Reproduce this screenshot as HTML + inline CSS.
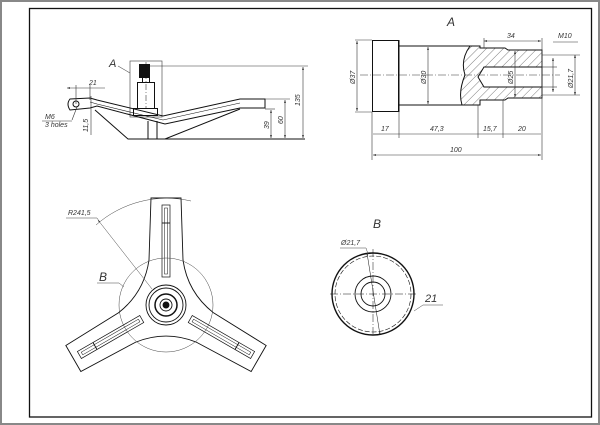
<!DOCTYPE html>
<html><head><meta charset="utf-8"><style>
html,body{margin:0;padding:0;background:#fff;}
svg{display:block;}
text{font-family:"Liberation Sans",sans-serif;font-style:italic;fill:#333;}
</style></head><body>
<svg width="600" height="425" viewBox="0 0 600 425" xmlns="http://www.w3.org/2000/svg">
<defs>
<pattern id="h" width="6" height="6" patternUnits="userSpaceOnUse" patternTransform="rotate(45)">
<line x1="0" y1="0" x2="0" y2="6" stroke="#444" stroke-width="0.7"/></pattern>
<marker id="a" markerWidth="6" markerHeight="6" refX="5" refY="3" orient="auto-start-reverse"><path d="M0,1.5L5,3L0,4.5z" fill="#222"/></marker>
</defs>
<rect x="1" y="1" width="598" height="423" fill="none" stroke="#888" stroke-width="2"/>
<rect x="29.5" y="8.5" width="562" height="408.5" fill="none" stroke="#111" stroke-width="1.3"/>

<!-- Side view -->
<g fill="none" stroke="#111" stroke-width="1">
<rect x="130" y="61" width="32" height="56" stroke="#555" stroke-width="0.7"/>
<line x1="118" y1="66" x2="130" y2="73" stroke="#555" stroke-width="0.6"/>
<rect x="139.5" y="64.5" width="10" height="13" fill="#111"/>
<rect x="142.5" y="77.5" width="7" height="5"/>
<rect x="137.5" y="82.5" width="17" height="26"/>
<rect x="133.5" y="108.5" width="24" height="7"/>
<line x1="146" y1="62" x2="146" y2="108" stroke-dasharray="6,2,1,2" stroke-width="0.5"/>
<path d="M70,99 L90,98 L97,100 L163,116 L240,99 L265,99 L265,108 L240,108 L165,124 L97,106 L90,108 L70,110 Q66,104 70,99z"/>
<path d="M90,102 L97,104 L163,120 L240,103" stroke-width="0.6"/>
<path d="M95,110 L128,139 L305,139 M148,121 L148,139 M157,121 L157,139 M165,139 L240,109"/>
<circle cx="76" cy="104" r="3"/>
</g>
<g stroke="#333" stroke-width="0.6" fill="none">
<line x1="150" y1="66" x2="308" y2="66"/>
<line x1="265" y1="99" x2="290" y2="99"/>
<line x1="265" y1="109" x2="275" y2="109"/>
<line x1="303" y1="67" x2="303" y2="138" marker-start="url(#a)" marker-end="url(#a)"/>
<line x1="285" y1="100" x2="285" y2="138" marker-start="url(#a)" marker-end="url(#a)"/>
<line x1="271" y1="110" x2="271" y2="138" marker-start="url(#a)" marker-end="url(#a)"/>
<line x1="67" y1="88" x2="105" y2="88" marker-start="url(#a)"/>
<line x1="76" y1="85" x2="76" y2="104"/><line x1="90" y1="85" x2="90" y2="100"/>
<line x1="91" y1="96" x2="91" y2="135"/>
<line x1="77" y1="107" x2="72" y2="120"/><line x1="42" y1="121" x2="72" y2="121"/>
</g>
<text x="89" y="85" font-size="7">21</text>
<text x="45" y="119" font-size="7">M6</text>
<text x="45" y="127" font-size="7">3 holes</text>
<text x="109" y="67" font-size="11">A</text>
<text font-size="7" transform="translate(300,106) rotate(-90)">135</text>
<text font-size="7" transform="translate(283,124) rotate(-90)">60</text>
<text font-size="7" transform="translate(269,129) rotate(-90)">39</text>
<text font-size="7" transform="translate(88,132) rotate(-90)">11,5</text>

<!-- View A -->
<text x="447" y="26" font-size="12">A</text>
<g fill="none" stroke="#111" stroke-width="1">
<rect x="372.5" y="40.5" width="26" height="71"/>
<line x1="399" y1="46" x2="470" y2="46"/><line x1="399" y1="105" x2="462" y2="105"/>
<path d="M470,46 Q460,60 465,75 Q458,92 462,105 L480,105 L480,100 L505,100 L508,98 L542,98 L542,50 L508,50 L505,48 L480,48 L480,46z" fill="url(#h)"/>
<path d="M542,67 L484,67 L478,77 L484,87 L542,87z" fill="#fff"/>
<line x1="399" y1="40" x2="399" y2="112"/>
</g>
<g stroke="#333" stroke-width="0.6" fill="none">
<line x1="360" y1="75" x2="560" y2="75" stroke-dasharray="8,2,1,2"/>
<line x1="357" y1="41" x2="357" y2="111" marker-start="url(#a)" marker-end="url(#a)"/>
<line x1="355" y1="40" x2="372" y2="40"/><line x1="355" y1="112" x2="372" y2="112"/>
<line x1="428" y1="47" x2="428" y2="104" marker-start="url(#a)" marker-end="url(#a)"/>
<line x1="515" y1="51" x2="515" y2="97" marker-start="url(#a)" marker-end="url(#a)"/>
<line x1="575" y1="55" x2="575" y2="95" marker-start="url(#a)" marker-end="url(#a)"/>
<line x1="542" y1="55" x2="580" y2="55"/><line x1="542" y1="95" x2="580" y2="95"/>
<line x1="553" y1="58" x2="553" y2="92" marker-start="url(#a)" marker-end="url(#a)"/>
<line x1="542" y1="67" x2="557" y2="67"/><line x1="542" y1="87" x2="557" y2="87"/>
<line x1="553" y1="42" x2="578" y2="42"/>
<line x1="484" y1="41" x2="541" y2="41" marker-start="url(#a)" marker-end="url(#a)"/>
<line x1="484" y1="38" x2="484" y2="48"/><line x1="542" y1="38" x2="542" y2="160"/>
<line x1="372" y1="112" x2="372" y2="160"/><line x1="399" y1="112" x2="399" y2="138"/>
<line x1="478" y1="105" x2="478" y2="138"/><line x1="503" y1="100" x2="503" y2="138"/>
<line x1="373" y1="134" x2="541" y2="134"/>
<line x1="373" y1="155" x2="541" y2="155" marker-start="url(#a)" marker-end="url(#a)"/>
</g>
<text x="558" y="38" font-size="7">M10</text>
<text x="507" y="38" font-size="7">34</text>
<text x="381" y="131" font-size="7">17</text>
<text x="430" y="131" font-size="7">47,3</text>
<text x="483" y="131" font-size="7">15,7</text>
<text x="518" y="131" font-size="7">20</text>
<text x="450" y="152" font-size="7">100</text>
<text font-size="7" transform="translate(355,84) rotate(-90)">Ø37</text>
<text font-size="7" transform="translate(426,84) rotate(-90)">Ø30</text>
<text font-size="7" transform="translate(513,84) rotate(-90)">Ø25</text>
<text font-size="7" transform="translate(573,88) rotate(-90)">Ø21,7</text>

<!-- Spider bottom view -->
<g transform="translate(166,305)" fill="none" stroke="#111" stroke-width="0.9">
<g id="arm">
<path d="M-17,-45 L-15,-107 L15,-107 L17,-45 Q21.6,-12.5 47.5,7.8"/>
<rect x="-4" y="-100" width="8" height="72" stroke-width="0.7"/>
<rect x="-1.5" y="-97" width="3" height="66" stroke-width="0.5"/>
<line x1="-4" y1="-82" x2="4" y2="-82"/>
</g>
<use href="#arm" transform="rotate(120)"/>
<use href="#arm" transform="rotate(240)"/>
<circle r="20"/><circle r="17"/><circle r="11" stroke-width="1.5"/><circle r="6"/><circle r="3" fill="#111"/>
<circle r="47" stroke="#444" stroke-width="0.5"/>
<path d="M-70,-80 A107,107 0 0 1 25,-104" stroke="#444" stroke-width="0.5"/>
<line x1="-68" y1="-85" x2="-14" y2="-16" stroke="#444" stroke-width="0.5" marker-start="url(#a)"/>
</g>
<g stroke="#444" stroke-width="0.5" fill="none">
<line x1="66" y1="218" x2="97" y2="218"/><line x1="97" y1="218" x2="99" y2="221"/>
<line x1="97" y1="283" x2="119" y2="283"/><line x1="119" y1="283" x2="124" y2="287"/>
</g>
<text x="68" y="215" font-size="7">R241,5</text>
<text x="99" y="281" font-size="12">B</text>

<!-- View B -->
<text x="373" y="228" font-size="12">B</text>
<g transform="translate(373,294)" fill="none" stroke="#111">
<circle r="41" stroke-width="1.4"/><circle r="38" stroke-width="0.6" stroke-dasharray="5,2"/>
<circle r="18" stroke-width="0.9"/><circle r="12" stroke-width="0.9"/>
<line x1="-43" y1="0" x2="45" y2="0" stroke-width="0.5" stroke-dasharray="8,2,1,2"/>
<line x1="0" y1="-45" x2="0" y2="40" stroke-width="0.5" stroke-dasharray="8,2,1,2"/>
<line x1="-6" y1="-41" x2="7" y2="41" stroke-width="0.5" marker-start="url(#a)" marker-end="url(#a)"/>
</g>
<g stroke="#444" stroke-width="0.5" fill="none">
<line x1="340" y1="248" x2="366" y2="248"/><line x1="366" y1="248" x2="368" y2="254"/>
<line x1="414" y1="311" x2="423" y2="305"/><line x1="423" y1="305" x2="443" y2="305"/>
</g>
<text x="341" y="245" font-size="7">Ø21,7</text>
<text x="425" y="302" font-size="11">21</text>
</svg>
</body></html>
